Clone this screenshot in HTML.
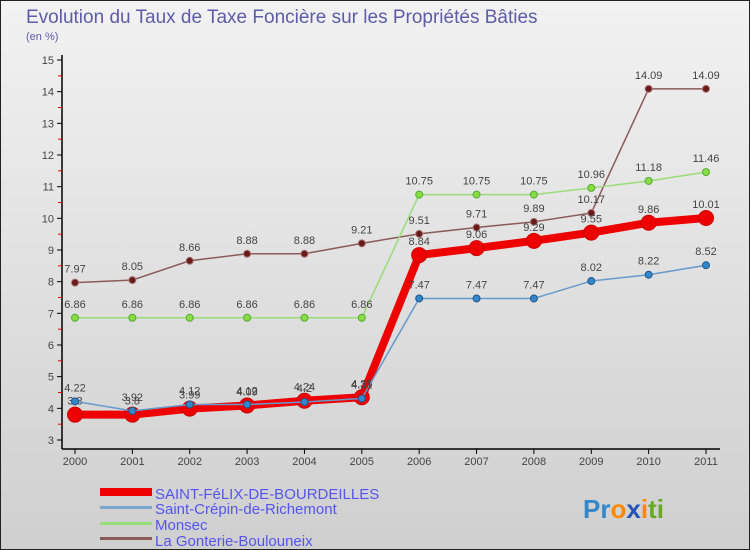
<!DOCTYPE html>
<html><head><meta charset="utf-8"><style>
body{margin:0;width:750px;height:550px;overflow:hidden;font-family:"Liberation Sans",sans-serif}
svg{display:block}
</style></head><body>
<svg width="750" height="550">
<defs><linearGradient id="bg" x1="0" y1="0" x2="0" y2="1"><stop offset="0" stop-color="#f2f2f2"/><stop offset="1" stop-color="#cfcfcf"/></linearGradient></defs>
<rect x="0.5" y="0.5" width="749" height="549" fill="url(#bg)" stroke="#222"/>
<text x="26" y="23" font-size="19" fill="#5c5ca8">Evolution du Taux de Taxe Foncière sur les Propriétés Bâties</text>
<text x="26" y="40" font-size="11" fill="#5c5ca8">(en %)</text>
<g id="axes"></g><g id="series"></g>
<g font-size="15" fill="#5555ee">
<rect x="100" y="488" width="52" height="8" fill="#e00"/>
<text x="155" y="499">SAINT-FéLIX-DE-BOURDEILLES</text>
<rect x="100" y="506" width="52" height="3" fill="#7aa6cc"/>
<text x="155" y="514">Saint-Crépin-de-Richemont</text>
<rect x="100" y="522" width="52" height="3" fill="#99dd77"/>
<text x="155" y="530">Monsec</text>
<rect x="100" y="537" width="52" height="3" fill="#8b5a5a"/>
<text x="155" y="546">La Gonterie-Boulouneix</text>
</g>
<text x="583" y="518" font-size="26" font-weight="bold"><tspan fill="#3388cc">Pr</tspan><tspan fill="#ff8800">o</tspan><tspan fill="#2255bb">x</tspan><tspan fill="#ff8800">i</tspan><tspan fill="#66aa22">ti</tspan></text>
</svg>
<script>
const years=[2000,2001,2002,2003,2004,2005,2006,2007,2008,2009,2010,2011];
const yTicks=[3,4,5,6,7,8,9,10,11,12,13,14,15];
const gonterie=[7.97,8.05,8.66,8.88,8.88,9.21,9.51,9.71,9.89,10.17,14.09,14.09];
const monsec=[6.86,6.86,6.86,6.86,6.86,6.86,10.75,10.75,10.75,10.96,11.18,11.46];
const crepin=[4.22,3.92,4.12,4.12,4.2,4.31,7.47,7.47,7.47,8.02,8.22,8.52];
const felix=[3.8,3.8,3.99,4.09,4.24,4.35,8.84,9.06,9.29,9.55,9.86,10.01];
const NS="http://www.w3.org/2000/svg";
const X=i=>75+i*(706-75)/(years.length-1);
const Y=v=>440-(v-3)*(440-60)/12;
function mk(t,a,p){const e=document.createElementNS(NS,t);for(const k in a)e.setAttribute(k,a[k]);p.appendChild(e);return e;}
const ax=document.getElementById('axes');
let l=mk('line',{x1:62,y1:55,x2:62,y2:449,stroke:'#000','stroke-width':1.5},ax);


l=mk('line',{x1:62,y1:449,x2:720,y2:449,stroke:'#000','stroke-width':1.5},ax);


yTicks.forEach(v=>{
 mk('line',{x1:57,y1:Y(v),x2:62,y2:Y(v),stroke:'#000'},ax);
 if(v<15)mk('line',{x1:58,y1:Y(v+0.5),x2:62,y2:Y(v+0.5),stroke:'#e00'},ax);
 const t=mk('text',{x:54,y:Y(v)+4,'text-anchor':'end','font-size':11,fill:'#444'},ax);
 t.textContent=v;
 
 
});
years.forEach((y,i)=>{
 mk('line',{x1:X(i),y1:449,x2:X(i),y2:454,stroke:'#000'},ax);
 const t=mk('text',{x:X(i),y:465,'text-anchor':'middle','font-size':11,fill:'#444'},ax);
 t.textContent=y;
 
 
});
const sg=document.getElementById('series');
function series(d,name,col,w,r,dot,stroke){
 const g=mk('g',{},sg);
 
 
 const pl=mk('polyline',{points:d.map((v,i)=>X(i)+','+Y(v)).join(' '),fill:'none',stroke:col,'stroke-width':w,'stroke-linejoin':'round'},g);
 
 
 d.forEach((v,i)=>{
  const c=mk('circle',{cx:X(i),cy:Y(v),r:r,fill:dot,stroke:stroke,'stroke-width':1},g);
  
  
  const t=mk('text',{x:X(i),y:Y(v)-10,'text-anchor':'middle','font-size':11,fill:'#444'},g);
  t.textContent=v;
  
  
 });
}
series(gonterie,'la-gonterie','#8b5a5a',1.5,3.5,'#6b1a1a','#aa7777');
series(monsec,'monsec','#99dd77',1.5,3.5,'#88dd44','#55aa33');
series(felix,'saint-felix','#ee0000',8,7.5,'#ee0000','#cc0000');
series(crepin,'saint-crepin','#6699cc',1.5,3.5,'#3388cc','#225588');
</script>
</body></html>
